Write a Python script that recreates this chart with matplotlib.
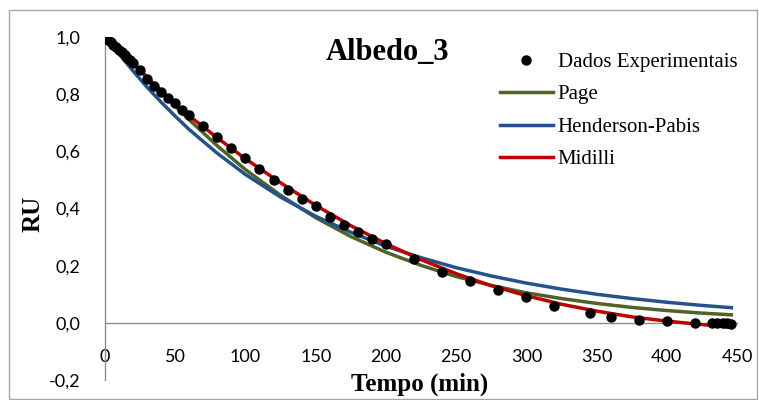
import numpy as np
import matplotlib
matplotlib.use("Agg")
import matplotlib.pyplot as plt
from matplotlib.patches import Rectangle

t_exp = [0, 2, 4, 6, 8, 10, 12, 14, 16, 18, 20, 25, 30, 35, 40, 45, 50, 55, 60,
         70, 80, 90, 100, 110, 120, 130, 140, 150, 160, 170, 180, 190, 200,
         220, 240, 260, 280, 300, 320, 345, 360, 380, 400, 420, 432, 436, 440,
         443, 446]
ru_exp = [1.0, 0.991, 0.982, 0.973, 0.964, 0.955, 0.946, 0.937, 0.927, 0.918,
          0.908, 0.885, 0.852, 0.830, 0.809, 0.788, 0.768, 0.745, 0.727,
          0.689, 0.651, 0.613, 0.576, 0.538, 0.500, 0.465, 0.434, 0.407,
          0.372, 0.344, 0.319, 0.294, 0.275, 0.225, 0.178, 0.147, 0.115,
          0.090, 0.059, 0.034, 0.022, 0.010, 0.007, 0.001, 0.0, 0.0, 0.0,
          -0.001, -0.003]

# model curves
t_mod = [0, 10, 20, 30, 40, 50, 60, 80, 100, 125, 150, 175, 200, 225, 250,
         275, 300, 325, 350, 375, 400, 425, 446]
ru_page = [1.0, 0.959, 0.910, 0.859, 0.808, 0.758, 0.710, 0.619, 0.536, 0.446,
           0.368, 0.302, 0.247, 0.201, 0.162, 0.131, 0.105, 0.085, 0.068,
           0.054, 0.043, 0.034, 0.028]
ru_hp = [1.005, 0.941, 0.881, 0.824, 0.772, 0.723, 0.676, 0.593, 0.519, 0.440,
         0.373, 0.317, 0.268, 0.228, 0.193, 0.164, 0.139, 0.118, 0.100, 0.085,
         0.072, 0.061, 0.053]
ru_midilli = [1.0, 0.955, 0.908, 0.858, 0.810, 0.766, 0.724, 0.647, 0.574,
              0.490, 0.411, 0.340, 0.277, 0.221, 0.172, 0.130, 0.095, 0.065,
              0.041, 0.021, 0.006, -0.006, -0.016]

xticks = [0, 50, 100, 150, 200, 250, 300, 350, 400, 450]
yticks = [-0.2, 0.0, 0.2, 0.4, 0.6, 0.8, 1.0]
ytick_labels = ["-0,2", "0,0", "0,2", "0,4", "0,6", "0,8", "1,0"]

serif = "Liberation Serif"
sans = "Lato"

fig = plt.figure(figsize=(7.59, 4.0), dpi=100)
ax = fig.add_axes([105 / 759, 1 - 380 / 400, (737 - 105) / 759, 343 / 400])

ax.plot(t_mod, ru_page, color="#4F6228", lw=2.5, label="Page", zorder=2)
ax.plot(t_mod, ru_hp, color="#24528C", lw=2.5, label="Henderson-Pabis", zorder=2)
ax.plot(t_mod, ru_midilli, color="#C00000", lw=2.5, label="Midilli", zorder=3)
ax.plot(t_exp, ru_exp, "o", color="black", ms=6.5, label="Dados Experimentais", zorder=4)

ax.set_xlim(0, 450)
ax.set_ylim(-0.2, 1.0)
ax.spines["top"].set_visible(False)
ax.spines["right"].set_visible(False)
ax.spines["bottom"].set_position(("data", 0))
for s in ("left", "bottom"):
    ax.spines[s].set_color("#8C8C8C")
    ax.spines[s].set_linewidth(1.0)

ax.set_xticks(xticks)
ax.set_xticklabels([str(v) for v in xticks], fontfamily=sans, fontsize=13)
ax.set_yticks(yticks)
ax.set_yticklabels(ytick_labels, fontfamily=sans, fontsize=13)
ax.tick_params(axis="x", length=0, pad=19)
ax.tick_params(axis="y", length=0, pad=18)

fig.text(420 / 759, 1 - 384 / 400, "Tempo (min)", fontfamily=serif,
         fontweight="bold", fontsize=18, ha="center", va="center")
fig.text(33 / 759, 1 - 214 / 400, "RU", fontfamily=serif, fontweight="bold",
         fontsize=18, rotation=90, ha="center", va="center")
fig.text(388 / 759, 1 - 52 / 400, "Albedo_3", fontfamily=serif,
         fontweight="bold", fontsize=22, ha="center", va="center")

handles, labels = ax.get_legend_handles_labels()
order = [3, 0, 1, 2]
ax.legend([handles[i] for i in order], [labels[i] for i in order],
          loc="upper left", bbox_to_anchor=(490 / 759, 1 - 42 / 400),
          bbox_transform=fig.transFigure, frameon=False, borderpad=0,
          handlelength=2.5, handletextpad=0.25, labelspacing=0.62, numpoints=1,
          prop={"family": serif, "size": 15})

fig.patches.append(Rectangle((9 / 759, 1 / 400), 748 / 759, 389 / 400,
                             transform=fig.transFigure, fill=False,
                             edgecolor="#A6A6A6", lw=1.0))

fig.savefig("out.png", dpi=100)
